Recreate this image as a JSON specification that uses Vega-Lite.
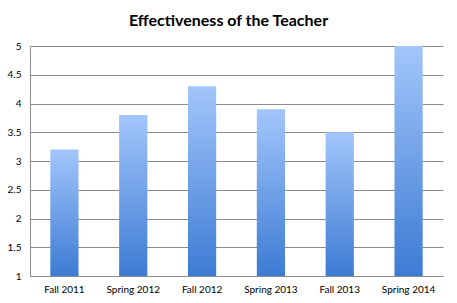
{
  "$schema": "https://vega.github.io/schema/vega-lite/v6.json",
  "width": 413,
  "height": 230,
  "autosize": {"type": "none"},
  "padding": {"left": 30, "top": 46, "right": 14, "bottom": 27},
  "background": "white",
  "title": {
    "text": "Effectiveness of the Teacher",
    "font": "Lato",
    "fontSize": 16,
    "fontWeight": "bold",
    "color": "black",
    "anchor": "middle",
    "dx": -8,
    "offset": 12
  },
  "data": {
    "values": [
      {"term": "Fall 2011", "score": 3.2},
      {"term": "Spring 2012", "score": 3.8},
      {"term": "Fall 2012", "score": 4.3},
      {"term": "Spring 2013", "score": 3.9},
      {"term": "Fall 2013", "score": 3.5},
      {"term": "Spring 2014", "score": 5.0}
    ]
  },
  "mark": {
    "type": "bar",
    "color": {
      "gradient": "linear",
      "x1": 0, "y1": 0, "x2": 0, "y2": 1,
      "stops": [
        {"offset": 0, "color": "#a2c6fb"},
        {"offset": 1, "color": "#3d7bd3"}
      ]
    }
  },
  "encoding": {
    "x": {
      "field": "term",
      "type": "nominal",
      "sort": null,
      "scale": {"paddingInner": 0.59, "paddingOuter": 0.295},
      "axis": {
        "title": null,
        "labelAngle": 0,
        "labelFont": "Lato",
        "labelFontSize": 10,
        "labelColor": "black",
        "ticks": false,
        "labelPadding": 8,
        "domainColor": "#8c8c8c"
      }
    },
    "y": {
      "field": "score",
      "type": "quantitative",
      "scale": {"domain": [1, 5], "nice": false, "zero": false},
      "axis": {
        "title": null,
        "values": [1, 1.5, 2, 2.5, 3, 3.5, 4, 4.5, 5],
        "format": "~g",
        "labelFont": "Lato",
        "labelFontSize": 10,
        "labelColor": "black",
        "ticks": false,
        "labelPadding": 9,
        "gridColor": "#8c8c8c",
        "domainColor": "#8c8c8c"
      }
    },
    "y2": {"datum": 1}
  },
  "config": {
    "view": {"stroke": null}
  }
}
